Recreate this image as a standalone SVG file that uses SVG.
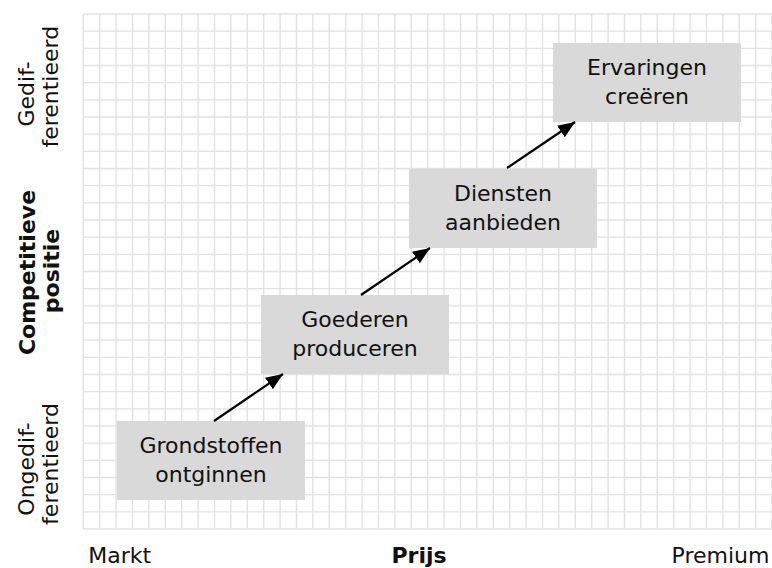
<svg xmlns="http://www.w3.org/2000/svg" width="772" height="568" viewBox="0 0 772 568">
<defs>
<style>
.grid line{stroke:#e2e2e2;stroke-width:1.4}
.box rect{fill:#d9d9d9}
text{font-family:"DejaVu Sans","Liberation Sans",sans-serif;font-size:22px;fill:#111}
.c{text-anchor:middle}
.b{font-weight:bold}
.conn line{stroke:#000;stroke-width:2.2;marker-end:url(#ah)}
</style>
<marker id="ah" markerUnits="userSpaceOnUse" markerWidth="19" markerHeight="15" refX="17" refY="7" orient="auto">
<path d="M0,0 L17,7 L0,14 z" fill="#000"/>
</marker>
</defs>
<rect width="772" height="568" fill="#fff"/>
<g class="grid" id="grid">
<line x1="83.3" y1="14" x2="83.3" y2="529"/><line x1="99.7" y1="14" x2="99.7" y2="529"/><line x1="116.1" y1="14" x2="116.1" y2="529"/><line x1="132.5" y1="14" x2="132.5" y2="529"/><line x1="148.9" y1="14" x2="148.9" y2="529"/><line x1="165.3" y1="14" x2="165.3" y2="529"/><line x1="181.7" y1="14" x2="181.7" y2="529"/><line x1="198.1" y1="14" x2="198.1" y2="529"/><line x1="214.5" y1="14" x2="214.5" y2="529"/><line x1="230.9" y1="14" x2="230.9" y2="529"/><line x1="247.3" y1="14" x2="247.3" y2="529"/><line x1="263.7" y1="14" x2="263.7" y2="529"/><line x1="280.1" y1="14" x2="280.1" y2="529"/><line x1="296.5" y1="14" x2="296.5" y2="529"/><line x1="312.9" y1="14" x2="312.9" y2="529"/><line x1="329.3" y1="14" x2="329.3" y2="529"/><line x1="345.7" y1="14" x2="345.7" y2="529"/><line x1="362.1" y1="14" x2="362.1" y2="529"/><line x1="378.5" y1="14" x2="378.5" y2="529"/><line x1="394.9" y1="14" x2="394.9" y2="529"/><line x1="411.3" y1="14" x2="411.3" y2="529"/><line x1="427.7" y1="14" x2="427.7" y2="529"/><line x1="444.1" y1="14" x2="444.1" y2="529"/><line x1="460.5" y1="14" x2="460.5" y2="529"/><line x1="476.9" y1="14" x2="476.9" y2="529"/><line x1="493.3" y1="14" x2="493.3" y2="529"/><line x1="509.7" y1="14" x2="509.7" y2="529"/><line x1="526.1" y1="14" x2="526.1" y2="529"/><line x1="542.5" y1="14" x2="542.5" y2="529"/><line x1="558.9" y1="14" x2="558.9" y2="529"/><line x1="575.3" y1="14" x2="575.3" y2="529"/><line x1="591.7" y1="14" x2="591.7" y2="529"/><line x1="608.1" y1="14" x2="608.1" y2="529"/><line x1="624.5" y1="14" x2="624.5" y2="529"/><line x1="640.9" y1="14" x2="640.9" y2="529"/><line x1="657.3" y1="14" x2="657.3" y2="529"/><line x1="673.7" y1="14" x2="673.7" y2="529"/><line x1="690.1" y1="14" x2="690.1" y2="529"/><line x1="706.5" y1="14" x2="706.5" y2="529"/><line x1="722.9" y1="14" x2="722.9" y2="529"/><line x1="739.3" y1="14" x2="739.3" y2="529"/><line x1="755.7" y1="14" x2="755.7" y2="529"/><line x1="772.1" y1="14" x2="772.1" y2="529"/>
<line x1="83.3" y1="14" x2="772" y2="14"/><line x1="83.3" y1="31.17" x2="772" y2="31.17"/><line x1="83.3" y1="48.33" x2="772" y2="48.33"/><line x1="83.3" y1="65.5" x2="772" y2="65.5"/><line x1="83.3" y1="82.67" x2="772" y2="82.67"/><line x1="83.3" y1="99.83" x2="772" y2="99.83"/><line x1="83.3" y1="117" x2="772" y2="117"/><line x1="83.3" y1="134.17" x2="772" y2="134.17"/><line x1="83.3" y1="151.33" x2="772" y2="151.33"/><line x1="83.3" y1="168.5" x2="772" y2="168.5"/><line x1="83.3" y1="185.67" x2="772" y2="185.67"/><line x1="83.3" y1="202.83" x2="772" y2="202.83"/><line x1="83.3" y1="220" x2="772" y2="220"/><line x1="83.3" y1="237.17" x2="772" y2="237.17"/><line x1="83.3" y1="254.33" x2="772" y2="254.33"/><line x1="83.3" y1="271.5" x2="772" y2="271.5"/><line x1="83.3" y1="288.67" x2="772" y2="288.67"/><line x1="83.3" y1="305.83" x2="772" y2="305.83"/><line x1="83.3" y1="323" x2="772" y2="323"/><line x1="83.3" y1="340.17" x2="772" y2="340.17"/><line x1="83.3" y1="357.33" x2="772" y2="357.33"/><line x1="83.3" y1="374.5" x2="772" y2="374.5"/><line x1="83.3" y1="391.67" x2="772" y2="391.67"/><line x1="83.3" y1="408.83" x2="772" y2="408.83"/><line x1="83.3" y1="426" x2="772" y2="426"/><line x1="83.3" y1="443.17" x2="772" y2="443.17"/><line x1="83.3" y1="460.33" x2="772" y2="460.33"/><line x1="83.3" y1="477.5" x2="772" y2="477.5"/><line x1="83.3" y1="494.67" x2="772" y2="494.67"/><line x1="83.3" y1="511.83" x2="772" y2="511.83"/><line x1="83.3" y1="529" x2="772" y2="529"/>
</g>
<g id="node-grondstoffen" class="box">
<rect x="117" y="421" width="188" height="79"/>
<text class="c" x="211" y="453">Grondstoffen</text>
<text class="c" x="211" y="481.5">ontginnen</text>
</g>
<g id="node-goederen" class="box">
<rect x="261" y="295" width="188" height="79"/>
<text class="c" x="355" y="327">Goederen</text>
<text class="c" x="355" y="355.5">produceren</text>
</g>
<g id="node-diensten" class="box">
<rect x="409" y="169" width="188" height="79"/>
<text class="c" x="503" y="201">Diensten</text>
<text class="c" x="503" y="229.5">aanbieden</text>
</g>
<g id="node-ervaringen" class="box">
<rect x="553" y="43" width="188" height="79"/>
<text class="c" x="647" y="75">Ervaringen</text>
<text class="c" x="647" y="103.5">creëren</text>
</g>
<g id="connectors" class="conn">
<line x1="214" y1="421" x2="283" y2="374"/>
<line x1="361" y1="295" x2="430" y2="248"/>
<line x1="507" y1="168" x2="575" y2="122"/>
</g>
<g id="axis-labels">
<text x="88.3" y="563">Markt</text>
<text class="c b" x="419" y="563">Prijs</text>
<text x="671.5" y="563">Premium</text>
<text class="c" transform="translate(33.5,94) rotate(-90)">Gedif-</text>
<text class="c" transform="translate(57.5,86.7) rotate(-90)">ferentieerd</text>
<text class="c b" transform="translate(35,272.5) rotate(-90)">Competitieve</text>
<text class="c b" transform="translate(58.5,271) rotate(-90)">positie</text>
<text class="c" transform="translate(33.5,469) rotate(-90)">Ongedif-</text>
<text class="c" transform="translate(57.5,464) rotate(-90)">ferentieerd</text>
</g>
</svg>
